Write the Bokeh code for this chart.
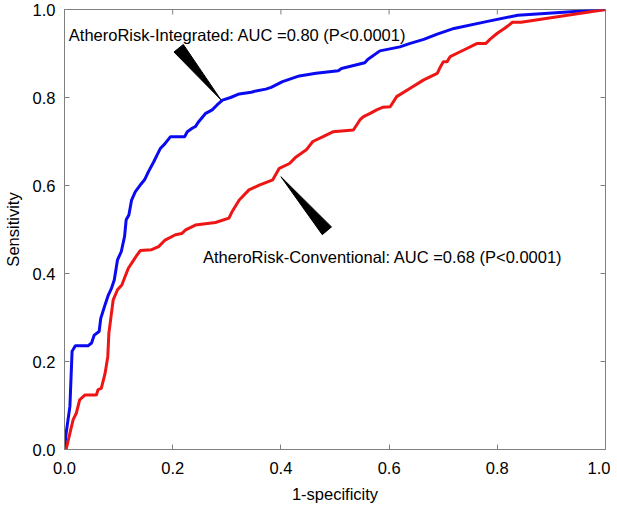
from bokeh.plotting import figure
from bokeh.models import Range1d, FixedTicker, PrintfTickFormatter
from bokeh.core.properties import value
from bokeh.embed import file_html
from bokeh.resources import INLINE
import math

# ---- data ----
blue_fpr = [0, 0.003, 0.010, 0.014, 0.020, 0.044, 0.050, 0.055, 0.064, 0.067,
            0.075, 0.081, 0.087, 0.092, 0.098, 0.105, 0.111, 0.114, 0.119, 0.124,
            0.131, 0.140, 0.148, 0.155, 0.165, 0.171, 0.177, 0.185, 0.196, 0.222,
            0.227, 0.236, 0.242, 0.248, 0.261, 0.273, 0.282, 0.292, 0.307, 0.323,
            0.345, 0.354, 0.372, 0.382, 0.403, 0.434, 0.465, 0.506, 0.512, 0.555,
            0.561, 0.583, 0.620, 0.639, 0.664, 0.689, 0.720, 0.782, 0.838, 1.0]
blue_tpr = [0, 0.037, 0.098, 0.223, 0.236, 0.236, 0.242, 0.260, 0.268, 0.298,
            0.329, 0.351, 0.367, 0.385, 0.431, 0.450, 0.484, 0.522, 0.533, 0.567,
            0.586, 0.601, 0.613, 0.631, 0.654, 0.669, 0.684, 0.694, 0.711, 0.711,
            0.722, 0.730, 0.734, 0.745, 0.764, 0.772, 0.783, 0.794, 0.800, 0.808,
            0.812, 0.815, 0.819, 0.823, 0.836, 0.849, 0.855, 0.861, 0.866, 0.879,
            0.887, 0.906, 0.915, 0.923, 0.932, 0.944, 0.957, 0.973, 0.987, 1.0]

red_fpr = [0, 0.003, 0.010, 0.016, 0.022, 0.028, 0.038, 0.059, 0.062, 0.068,
           0.075, 0.080, 0.082, 0.086, 0.090, 0.098, 0.106, 0.112, 0.118, 0.126,
           0.134, 0.140, 0.161, 0.174, 0.186, 0.205, 0.217, 0.224, 0.242, 0.279,
           0.304, 0.310, 0.323, 0.341, 0.360, 0.385, 0.397, 0.416, 0.428, 0.447,
           0.459, 0.478, 0.496, 0.534, 0.546, 0.552, 0.565, 0.577, 0.589, 0.602,
           0.614, 0.639, 0.664, 0.689, 0.695, 0.700, 0.707, 0.713, 0.738, 0.763,
           0.779, 0.788, 0.800, 0.813, 0.822, 0.828, 0.844, 1.0]
red_tpr = [0, 0.0, 0.037, 0.068, 0.083, 0.113, 0.124, 0.124, 0.136, 0.139,
           0.173, 0.211, 0.264, 0.302, 0.340, 0.363, 0.374, 0.393, 0.412, 0.427,
           0.442, 0.452, 0.454, 0.461, 0.476, 0.488, 0.491, 0.499, 0.510, 0.516,
           0.526, 0.541, 0.567, 0.590, 0.601, 0.613, 0.639, 0.650, 0.665, 0.681,
           0.700, 0.711, 0.722, 0.726, 0.749, 0.756, 0.764, 0.772, 0.778, 0.779,
           0.802, 0.821, 0.840, 0.855, 0.870, 0.881, 0.881, 0.893, 0.908, 0.923,
           0.923, 0.934, 0.946, 0.957, 0.965, 0.971, 0.971, 1.0]

tick_values = [0.0, 0.2, 0.4, 0.6, 0.8, 1.0]

label_texts = ["AtheroRisk-Integrated: AUC =0.80 (P<0.0001)",
               "AtheroRisk-Conventional: AUC =0.68 (P<0.0001)"]
label_x = [0.008, 0.256]
label_y = [0.942, 0.438]

# pointer wedges: tip (on the curve) and wide end
arrow_tip_x = [0.289, 0.400]
arrow_tip_y = [0.795, 0.620]
arrow_base_x = [0.211, 0.485]
arrow_base_y = [0.912, 0.497]

FONT = "Liberation Sans"
AX_COLOR = "#808080"
FW, FH = 538, 440
TICK = 5

p = figure(width=610, height=507,
           x_range=Range1d(0, 1), y_range=Range1d(0, 1),
           output_backend="svg", toolbar_location=None,
           min_border_left=58, min_border_right=5,
           min_border_top=9, min_border_bottom=58)
p.styles = {"margin-bottom": "-12px", "margin-right": "-6px"}
p.grid.visible = False
p.outline_line_color = AX_COLOR
p.background_fill_color = "white"
p.border_fill_color = "white"

for ax in (p.xaxis[0], p.yaxis[0]):
    ax.ticker = FixedTicker(ticks=tick_values)
    ax.formatter = PrintfTickFormatter(format="%.1f")
    ax.major_tick_in = TICK
    ax.major_tick_out = 0
    ax.minor_tick_line_color = None
    ax.axis_line_color = AX_COLOR
    ax.major_tick_line_color = AX_COLOR
    ax.major_label_text_font = FONT
    ax.major_label_text_font_size = "16.5px"
    ax.major_label_text_color = "black"
    ax.axis_label_text_font = FONT
    ax.axis_label_text_font_size = "16.5px"
    ax.axis_label_text_font_style = "normal"
    ax.axis_label_text_color = "black"

p.xaxis[0].axis_label = "1-specificity"
p.yaxis[0].axis_label = "Sensitivity"
p.xaxis[0].major_label_standoff = 12
p.xaxis[0].axis_label_standoff = 8
p.yaxis[0].major_label_standoff = 9
p.yaxis[0].axis_label_standoff = 8

# inward ticks on the top and right edges of the box
p.segment(x0=tick_values, y0=[1.0] * len(tick_values),
          x1=tick_values, y1=[1.0 - TICK / FH] * len(tick_values),
          line_color=AX_COLOR, line_width=1)
p.segment(x0=[1.0] * len(tick_values), y0=tick_values,
          x1=[1.0 - TICK / FW] * len(tick_values), y1=tick_values,
          line_color=AX_COLOR, line_width=1)

# curves
p.line(blue_fpr, blue_tpr, line_color="#0a0af0", line_width=3)
p.line(red_fpr, red_tpr, line_color="#ee1515", line_width=3)

# wedges
HALF_W = 6.0
xs, ys = [], []
for tx, ty, bx, by in zip(arrow_tip_x, arrow_tip_y, arrow_base_x, arrow_base_y):
    dx = (bx - tx) * FW
    dy = (by - ty) * FH
    L = math.hypot(dx, dy)
    px, py = -dy / L * HALF_W, dx / L * HALF_W
    xs.append([tx, bx + px / FW, bx - px / FW])
    ys.append([ty, by + py / FH, by - py / FH])
p.patches(xs, ys, fill_color="black", line_color="black", line_width=1)

p.text(label_x, label_y, text=label_texts, text_font=value(FONT),
       text_font_size="16.5px", text_color="black", text_baseline="alphabetic",
       text_align="left")

open("out.html", "w").write(file_html(p, INLINE))
